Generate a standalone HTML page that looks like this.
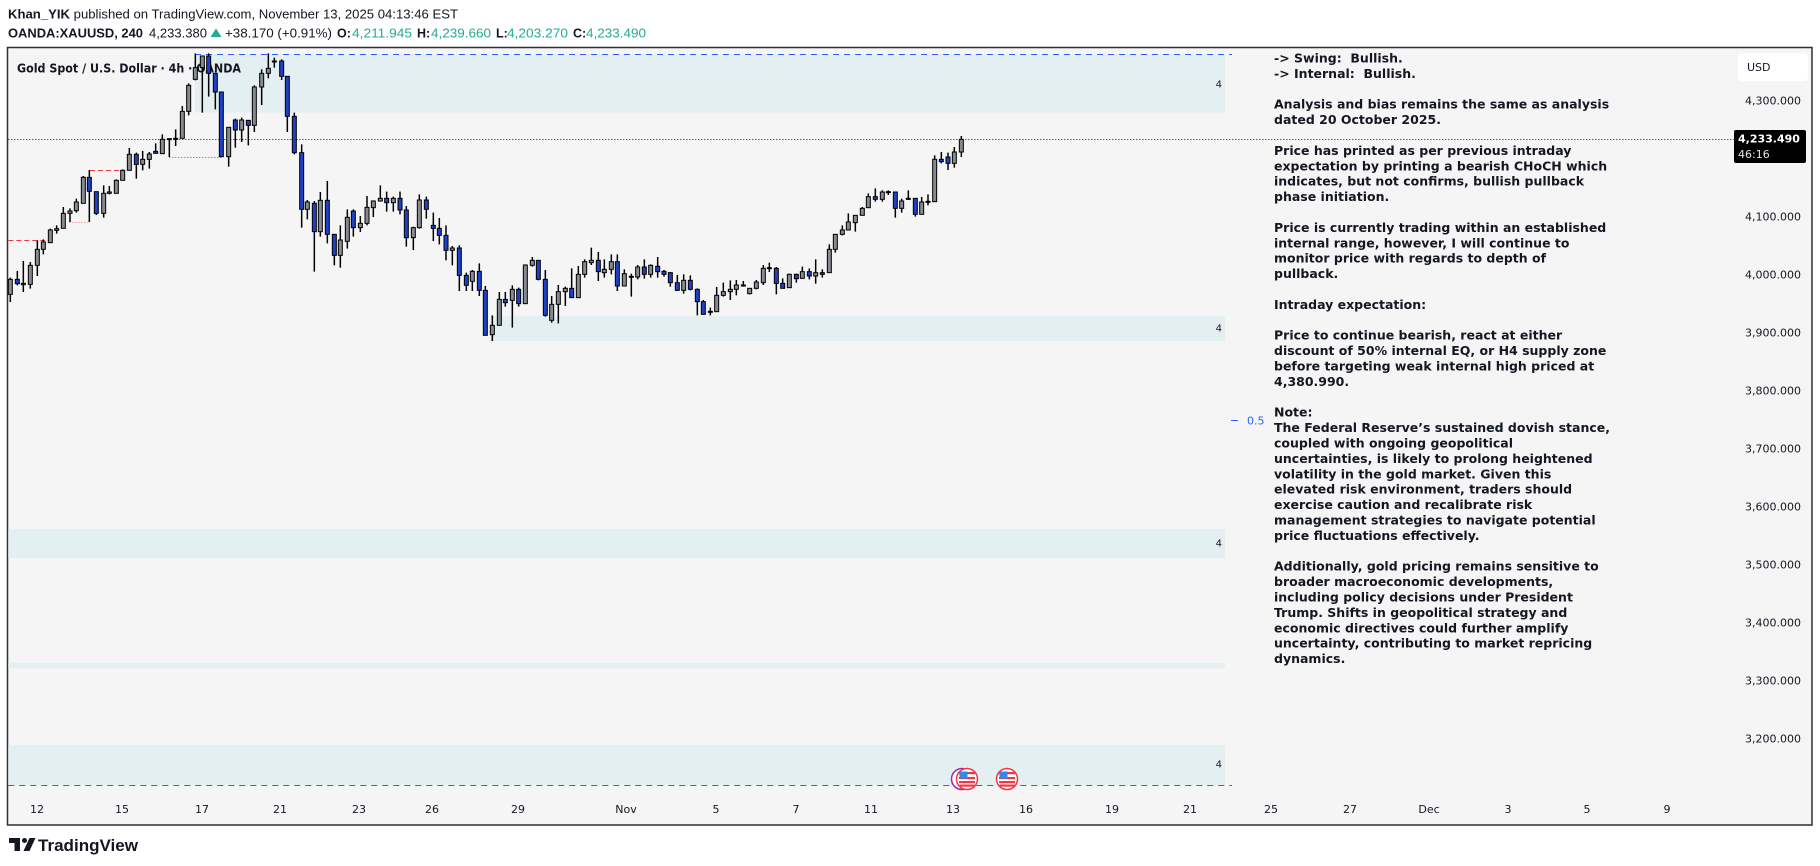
<!DOCTYPE html>
<html>
<head>
<meta charset="utf-8">
<style>
html,body{margin:0;padding:0;background:#fff;width:1820px;height:866px;overflow:hidden}
svg{display:block}
.g{fill:#878a91;stroke:#000;stroke-width:3}
.b{fill:#1f41c8;stroke:#000;stroke-width:3}
.w{stroke:#000;stroke-width:4.5;fill:none}
.ax{font-family:"DejaVu Sans",sans-serif;font-size:11px;fill:#131722}
.tb{font-family:"DejaVu Sans",sans-serif;font-weight:bold;font-size:12.5px;fill:#131722}
.z4{font-family:"DejaVu Sans",sans-serif;font-size:10px;fill:#131722}
</style>
</head>
<body>
<svg width="1820" height="866" viewBox="0 0 1820 866" xmlns="http://www.w3.org/2000/svg">
<rect x="0" y="0" width="1820" height="866" fill="#ffffff"/>

<!-- Header -->
<text x="8" y="18.5" font-family="Liberation Sans, sans-serif" font-size="12.5" fill="#131722" textLength="450" lengthAdjust="spacingAndGlyphs"><tspan font-weight="bold">Khan_YIK</tspan> published on TradingView.com, November 13, 2025 04:13:46 EST</text>
<g font-family="Liberation Sans, sans-serif" font-size="12.5" fill="#131722">
<text x="8" y="37.5" font-weight="bold" textLength="135" lengthAdjust="spacingAndGlyphs">OANDA:XAUUSD, 240</text>
<text x="149" y="37.5" textLength="58" lengthAdjust="spacingAndGlyphs">4,233.380</text>
<polygon points="210.5,37 216,28.5 221.5,37" fill="#22ab94"/>
<text x="225" y="37.5" textLength="107" lengthAdjust="spacingAndGlyphs">+38.170 (+0.91%)</text>
<text x="337" y="37.5" font-weight="bold">O:</text>
<text x="352" y="37.5" fill="#22ab94" textLength="60" lengthAdjust="spacingAndGlyphs">4,211.945</text>
<text x="417" y="37.5" font-weight="bold">H:</text>
<text x="431" y="37.5" fill="#22ab94" textLength="60" lengthAdjust="spacingAndGlyphs">4,239.660</text>
<text x="496" y="37.5" font-weight="bold">L:</text>
<text x="507" y="37.5" fill="#22ab94" textLength="61" lengthAdjust="spacingAndGlyphs">4,203.270</text>
<text x="573" y="37.5" font-weight="bold">C:</text>
<text x="586" y="37.5" fill="#22ab94" textLength="60" lengthAdjust="spacingAndGlyphs">4,233.490</text>
</g>

<!-- Chart frame -->
<rect x="7.5" y="47.5" width="1804.5" height="777.5" fill="#f6f5f6" stroke="#2a2e39" stroke-width="1.5"/>

<!-- Zones -->
<g fill="#e4eff1">
<rect x="195" y="54.3" width="1030" height="58.4"/>
<rect x="490" y="316" width="735" height="25"/>
<rect x="8.3" y="529" width="1216.7" height="29"/>
<rect x="8.3" y="663" width="1216.7" height="5.5"/>
<rect x="8.3" y="745" width="1216.7" height="40"/>
</g>
<line x1="195" y1="54.5" x2="1232" y2="54.5" stroke="#2962ff" stroke-width="1" stroke-dasharray="6 5"/>
<line x1="8.3" y1="785.5" x2="1232" y2="785.5" stroke="#2962ff" stroke-width="1" stroke-dasharray="6 5"/>
<text class="z4" x="1222" y="87.5" text-anchor="end">4</text>
<text class="z4" x="1222" y="331.5" text-anchor="end">4</text>
<text class="z4" x="1222" y="546.5" text-anchor="end">4</text>
<text class="z4" x="1222" y="767.5" text-anchor="end">4</text>

<!-- misc lines -->
<line x1="8.3" y1="240.5" x2="45" y2="240.5" stroke="#f23645" stroke-width="1" stroke-dasharray="5 3"/>
<line x1="90" y1="170.5" x2="122" y2="170.5" stroke="#f23645" stroke-width="1" stroke-dasharray="5 3"/>
<line x1="69" y1="222.5" x2="89" y2="222.5" stroke="#f4a0a8" stroke-width="1" stroke-dasharray="1.5 1.5"/>
<line x1="169" y1="157.5" x2="222" y2="157.5" stroke="#6f95f0" stroke-width="1" stroke-dasharray="1.5 1.5"/>
<line x1="8.3" y1="139.5" x2="1734" y2="139.5" stroke="#131722" stroke-width="1" stroke-dasharray="1 2"/>

<!-- title -->
<text x="17" y="72.5" font-family="DejaVu Sans, sans-serif" font-weight="bold" font-size="12" fill="#131722" textLength="224" lengthAdjust="spacingAndGlyphs">Gold Spot / U.S. Dollar · 4h · OANDA</text>

<!-- Candles group A -->
<g transform="translate(0 46) scale(0.333333)">
<path class="w" d="M31 695V768M52 675V718M70 645V738M91 648V728M112 583V690M130 580V625M151 548V590M170 538V563M190 483V547M210 487V528M229 458V500M250 390V472M268 372V528M289 437V507M311 418V515M328 420V445M349 400V442M368 370V403M388 306V373M409 320V398M428 315V373M448 318V368M467 292V322M487 265V323M508 278V333M527 250V300M547 180V277M566 112V208M586 22V103M607 30V200M626 22V152M646 82V190M664 138V332M686 244V362M706 218V305M725 215V288M745 223V298M763 118V258M785 70V177M805 22V97M823 35V65M845 40V102M862 91V258M883 200V325M905 295V545M922 462V520M943 465V677M961 438V572M982 405V592M1003 565V658M1021 538V665M1042 490V608M1060 490V572M1081 510V558M1101 450V538M1120 463V513M1141 418V467M1160 437V497M1180 452V497M1200 437V505M1219 480V602M1240 542V612M1258 445V548M1279 452V518M1300 500V585M1318 516V595M1338 538V643M1357 600V658M1378 598V735M1399 680V735"/>
<g transform="translate(1 0)">
<rect class="g" x="24" y="700" width="12" height="45"/>
<rect class="b" x="45" y="700" width="12" height="13"/>
<rect class="g" x="63" y="712" width="12" height="4"/>
<rect class="g" x="84" y="658" width="12" height="57"/>
<rect class="g" x="105" y="610" width="12" height="48"/>
<rect class="g" x="123" y="588" width="12" height="22"/>
<rect class="g" x="144" y="552" width="12" height="38"/>
<rect class="g" x="163" y="548" width="12" height="5"/>
<rect class="g" x="183" y="502" width="12" height="45"/>
<rect class="g" x="203" y="495" width="12" height="7"/>
<rect class="g" x="222" y="468" width="12" height="26"/>
<rect class="g" x="243" y="394" width="12" height="78"/>
<rect class="b" x="261" y="394" width="12" height="42"/>
<rect class="b" x="282" y="437" width="12" height="65"/>
<rect class="g" x="304" y="442" width="12" height="60"/>
<rect class="g" x="321" y="438" width="12" height="4"/>
<rect class="g" x="342" y="403" width="12" height="39"/>
<rect class="g" x="361" y="373" width="12" height="30"/>
<rect class="g" x="381" y="325" width="12" height="48"/>
<rect class="b" x="402" y="325" width="12" height="30"/>
<rect class="g" x="421" y="340" width="12" height="15"/>
<rect class="g" x="441" y="324" width="12" height="16"/>
<rect class="b" x="460" y="316" width="12" height="6"/>
<rect class="g" x="480" y="280" width="12" height="43"/>
<rect class="g" x="501" y="278" width="12" height="3"/>
<rect class="g" x="520" y="277" width="12" height="3"/>
<rect class="g" x="540" y="196" width="12" height="81"/>
<rect class="g" x="559" y="118" width="12" height="78"/>
<rect class="g" x="579" y="65" width="12" height="35"/>
<rect class="g" x="600" y="30" width="12" height="35"/>
<rect class="b" x="619" y="30" width="12" height="52"/>
<rect class="b" x="639" y="82" width="12" height="56"/>
<rect class="b" x="657" y="138" width="12" height="194"/>
<rect class="g" x="679" y="244" width="12" height="88"/>
<rect class="b" x="699" y="222" width="12" height="30"/>
<rect class="g" x="718" y="222" width="12" height="30"/>
<rect class="b" x="738" y="223" width="12" height="15"/>
<rect class="g" x="756" y="123" width="12" height="115"/>
<rect class="g" x="778" y="82" width="12" height="41"/>
<rect class="g" x="798" y="67" width="12" height="15"/>
<rect class="g" x="816" y="45" width="12" height="3"/>
<rect class="b" x="838" y="45" width="12" height="46"/>
<rect class="b" x="855" y="91" width="12" height="120"/>
<rect class="b" x="876" y="211" width="12" height="109"/>
<rect class="b" x="898" y="320" width="12" height="170"/>
<rect class="g" x="915" y="468" width="12" height="22"/>
<rect class="b" x="936" y="472" width="12" height="85"/>
<rect class="g" x="954" y="463" width="12" height="94"/>
<rect class="b" x="975" y="463" width="12" height="102"/>
<rect class="b" x="996" y="565" width="12" height="63"/>
<rect class="g" x="1014" y="582" width="12" height="46"/>
<rect class="g" x="1035" y="514" width="12" height="72"/>
<rect class="b" x="1053" y="495" width="12" height="50"/>
<rect class="g" x="1074" y="532" width="12" height="13"/>
<rect class="g" x="1094" y="484" width="12" height="48"/>
<rect class="g" x="1113" y="465" width="12" height="20"/>
<rect class="g" x="1134" y="457" width="12" height="8"/>
<rect class="b" x="1153" y="457" width="12" height="13"/>
<rect class="g" x="1173" y="457" width="12" height="13"/>
<rect class="b" x="1193" y="457" width="12" height="35"/>
<rect class="b" x="1212" y="492" width="12" height="83"/>
<rect class="g" x="1233" y="545" width="12" height="30"/>
<rect class="g" x="1251" y="462" width="12" height="83"/>
<rect class="b" x="1272" y="462" width="12" height="28"/>
<rect class="b" x="1293" y="538" width="12" height="9"/>
<rect class="b" x="1311" y="547" width="12" height="21"/>
<rect class="b" x="1331" y="568" width="12" height="45"/>
<rect class="g" x="1350" y="606" width="12" height="7"/>
<rect class="b" x="1371" y="606" width="12" height="82"/>
<rect class="b" x="1392" y="688" width="12" height="30"/>
</g>
</g>

<!-- Candles group B -->
<g transform="translate(470 46) scale(0.333333)">
<path class="w" d="M7 672V735M28 652V750M46 720V868M67 808V885M88 738V838M106 738V782M127 718V845M146 725V782M166 655V773M187 633V662M205 643V703M226 672V812M245 750V830M265 717V832M286 722V780M305 667V755M325 660V755M344 640V695M364 605V657M385 618V705M403 640V695M424 625V685M442 625V735M463 670V720M484 683V752M503 657V700M523 640V698M542 655V695M563 633V695M582 672V692M601 678V722M622 687V735M641 685V743M661 688V733M682 727V808M700 762V806M721 785V808M740 723V797M760 710V752M781 703V762M799 702V748M820 705V722M839 727V745M859 702V730M880 657V717M898 650V678M919 663V745M938 697V727M958 683V725M979 683V710M997 662V697M1018 667V700M1037 640V713M1057 670V695M1078 595V680M1096 565V620M1117 538V568M1135 502V552M1156 508V557M1177 483V508M1195 442V485M1216 427V467M1237 433V467M1255 433V447M1276 438V515M1295 458V500M1315 433V462M1336 457V512M1355 453V505M1374 445V478M1394 328V467M1414 318V352M1434 320V372M1453 303V365M1474 270V333"/>
<g transform="translate(1 0)">
<rect class="g" x="0" y="676" width="12" height="30"/>
<rect class="b" x="21" y="676" width="12" height="57"/>
<rect class="b" x="39" y="733" width="12" height="135"/>
<rect class="g" x="60" y="838" width="12" height="28"/>
<rect class="g" x="81" y="760" width="12" height="78"/>
<rect class="b" x="99" y="760" width="12" height="10"/>
<rect class="g" x="120" y="730" width="12" height="33"/>
<rect class="b" x="139" y="730" width="12" height="43"/>
<rect class="g" x="159" y="657" width="12" height="116"/>
<rect class="g" x="180" y="643" width="12" height="15"/>
<rect class="b" x="198" y="643" width="12" height="57"/>
<rect class="b" x="219" y="700" width="12" height="108"/>
<rect class="g" x="238" y="775" width="12" height="48"/>
<rect class="g" x="258" y="737" width="12" height="38"/>
<rect class="g" x="279" y="727" width="12" height="10"/>
<rect class="b" x="298" y="727" width="12" height="28"/>
<rect class="g" x="318" y="685" width="12" height="70"/>
<rect class="g" x="337" y="647" width="12" height="38"/>
<rect class="g" x="357" y="643" width="12" height="7"/>
<rect class="b" x="378" y="643" width="12" height="34"/>
<rect class="g" x="396" y="670" width="12" height="10"/>
<rect class="g" x="417" y="647" width="12" height="23"/>
<rect class="b" x="435" y="647" width="12" height="73"/>
<rect class="g" x="456" y="683" width="12" height="37"/>
<rect class="g" x="477" y="691" width="12" height="3"/>
<rect class="g" x="496" y="663" width="12" height="30"/>
<rect class="b" x="516" y="663" width="12" height="22"/>
<rect class="g" x="535" y="658" width="12" height="27"/>
<rect class="b" x="556" y="661" width="12" height="16"/>
<rect class="b" x="575" y="676" width="12" height="9"/>
<rect class="b" x="594" y="680" width="12" height="30"/>
<rect class="b" x="615" y="710" width="12" height="23"/>
<rect class="g" x="634" y="703" width="12" height="30"/>
<rect class="b" x="654" y="703" width="12" height="27"/>
<rect class="b" x="675" y="730" width="12" height="37"/>
<rect class="b" x="693" y="767" width="12" height="38"/>
<rect class="g" x="714" y="796" width="12" height="3"/>
<rect class="g" x="733" y="748" width="12" height="49"/>
<rect class="g" x="753" y="737" width="12" height="11"/>
<rect class="g" x="774" y="730" width="12" height="7"/>
<rect class="g" x="792" y="717" width="12" height="13"/>
<rect class="g" x="813" y="717" width="12" height="3"/>
<rect class="g" x="832" y="727" width="12" height="16"/>
<rect class="g" x="852" y="708" width="12" height="19"/>
<rect class="g" x="873" y="667" width="12" height="43"/>
<rect class="g" x="891" y="665" width="12" height="3"/>
<rect class="b" x="912" y="667" width="12" height="45"/>
<rect class="b" x="931" y="712" width="12" height="15"/>
<rect class="g" x="951" y="685" width="12" height="40"/>
<rect class="b" x="972" y="685" width="12" height="13"/>
<rect class="g" x="990" y="677" width="12" height="20"/>
<rect class="b" x="1011" y="677" width="12" height="13"/>
<rect class="g" x="1030" y="680" width="12" height="10"/>
<rect class="b" x="1050" y="680" width="12" height="5"/>
<rect class="g" x="1071" y="610" width="12" height="70"/>
<rect class="g" x="1089" y="565" width="12" height="45"/>
<rect class="g" x="1110" y="552" width="12" height="13"/>
<rect class="g" x="1128" y="528" width="12" height="24"/>
<rect class="g" x="1149" y="508" width="12" height="22"/>
<rect class="g" x="1170" y="487" width="12" height="21"/>
<rect class="g" x="1188" y="452" width="12" height="33"/>
<rect class="b" x="1209" y="452" width="12" height="8"/>
<rect class="g" x="1230" y="438" width="12" height="22"/>
<rect class="g" x="1248" y="437" width="12" height="3"/>
<rect class="b" x="1269" y="438" width="12" height="49"/>
<rect class="g" x="1288" y="465" width="12" height="22"/>
<rect class="g" x="1308" y="457" width="12" height="3"/>
<rect class="b" x="1329" y="457" width="12" height="48"/>
<rect class="g" x="1348" y="468" width="12" height="37"/>
<rect class="g" x="1367" y="466" width="12" height="3"/>
<rect class="g" x="1387" y="340" width="12" height="127"/>
<rect class="b" x="1407" y="340" width="12" height="7"/>
<rect class="b" x="1427" y="333" width="12" height="19"/>
<rect class="g" x="1446" y="318" width="12" height="34"/>
<rect class="g" x="1467" y="280" width="12" height="38"/>
</g>
</g>

<!-- 0.5 label -->
<line x1="1231" y1="420.5" x2="1238" y2="420.5" stroke="#2962ff" stroke-width="1"/>
<text x="1247" y="424.5" font-family="DejaVu Sans, sans-serif" font-size="11" fill="#2962ff">0.5</text>

<!-- Text block -->
<text class="tb" xml:space="preserve">
<tspan x="1274" y="62.5">-&gt; Swing:  Bullish.</tspan>
<tspan x="1274" y="77.9">-&gt; Internal:  Bullish.</tspan>
<tspan x="1274" y="108.7">Analysis and bias remains the same as analysis</tspan>
<tspan x="1274" y="124.1">dated 20 October 2025.</tspan>
<tspan x="1274" y="154.9">Price has printed as per previous intraday</tspan>
<tspan x="1274" y="170.3">expectation by printing a bearish CHoCH which</tspan>
<tspan x="1274" y="185.7">indicates, but not confirms, bullish pullback</tspan>
<tspan x="1274" y="201.1">phase initiation.</tspan>
<tspan x="1274" y="231.9">Price is currently trading within an established</tspan>
<tspan x="1274" y="247.3">internal range, however, I will continue to</tspan>
<tspan x="1274" y="262.7">monitor price with regards to depth of</tspan>
<tspan x="1274" y="278.1">pullback.</tspan>
<tspan x="1274" y="308.9">Intraday expectation:</tspan>
<tspan x="1274" y="339.7">Price to continue bearish, react at either</tspan>
<tspan x="1274" y="355.1">discount of 50% internal EQ, or H4 supply zone</tspan>
<tspan x="1274" y="370.5">before targeting weak internal high priced at</tspan>
<tspan x="1274" y="385.9">4,380.990.</tspan>
<tspan x="1274" y="416.7">Note:</tspan>
<tspan x="1274" y="432.1">The Federal Reserve’s sustained dovish stance,</tspan>
<tspan x="1274" y="447.5">coupled with ongoing geopolitical</tspan>
<tspan x="1274" y="462.9">uncertainties, is likely to prolong heightened</tspan>
<tspan x="1274" y="478.3">volatility in the gold market. Given this</tspan>
<tspan x="1274" y="493.7">elevated risk environment, traders should</tspan>
<tspan x="1274" y="509.1">exercise caution and recalibrate risk</tspan>
<tspan x="1274" y="524.5">management strategies to navigate potential</tspan>
<tspan x="1274" y="539.9">price fluctuations effectively.</tspan>
<tspan x="1274" y="570.7">Additionally, gold pricing remains sensitive to</tspan>
<tspan x="1274" y="586.1">broader macroeconomic developments,</tspan>
<tspan x="1274" y="601.5">including policy decisions under President</tspan>
<tspan x="1274" y="616.9">Trump. Shifts in geopolitical strategy and</tspan>
<tspan x="1274" y="632.3">economic directives could further amplify</tspan>
<tspan x="1274" y="647.7">uncertainty, contributing to market repricing</tspan>
<tspan x="1274" y="663.1">dynamics.</tspan>
</text>

<!-- Flags -->
<circle cx="962" cy="779" r="10.5" fill="#fff" stroke="#9c27b0" stroke-width="1.5"/>
<g>
<circle cx="967" cy="779" r="10.5" fill="#fff" stroke="#f23645" stroke-width="1.5"/>
<rect x="959" y="777" width="16" height="2.2" fill="#f23645"/>
<rect x="959" y="781" width="16" height="2.2" fill="#f23645"/>
<rect x="959.5" y="784.5" width="15" height="2.2" fill="#f23645"/>
<rect x="959" y="772" width="16" height="2.2" fill="#f23645"/>
<rect x="959.5" y="771.5" width="8" height="7" fill="#2e8ae6"/>
</g>
<g>
<circle cx="1007" cy="779" r="10.5" fill="#fff" stroke="#f23645" stroke-width="1.5"/>
<rect x="999" y="777" width="16" height="2.2" fill="#f23645"/>
<rect x="999" y="781" width="16" height="2.2" fill="#f23645"/>
<rect x="999.5" y="784.5" width="15" height="2.2" fill="#f23645"/>
<rect x="999" y="772" width="16" height="2.2" fill="#f23645"/>
<rect x="999.5" y="771.5" width="8" height="7" fill="#2e8ae6"/>
</g>

<!-- Price axis -->
<rect x="1738" y="53" width="70" height="28" rx="4" fill="#ffffff"/>
<text class="ax" x="1747" y="71">USD</text>
<g class="ax" text-anchor="end">
<text x="1801" y="104.3">4,300.000</text>
<text x="1801" y="220.3">4,100.000</text>
<text x="1801" y="278.3">4,000.000</text>
<text x="1801" y="336.3">3,900.000</text>
<text x="1801" y="394.3">3,800.000</text>
<text x="1801" y="452.3">3,700.000</text>
<text x="1801" y="510.3">3,600.000</text>
<text x="1801" y="568.3">3,500.000</text>
<text x="1801" y="626.3">3,400.000</text>
<text x="1801" y="684.3">3,300.000</text>
<text x="1801" y="742.3">3,200.000</text>
</g>
<rect x="1734" y="130" width="72" height="33" rx="2" fill="#000000"/>
<text x="1738" y="142.5" font-family="DejaVu Sans, sans-serif" font-weight="bold" font-size="11" fill="#ffffff">4,233.490</text>
<text x="1738" y="158" font-family="DejaVu Sans, sans-serif" font-size="11" fill="#e0e3eb">46:16</text>

<!-- Time axis -->
<g class="ax" text-anchor="middle">
<text x="37" y="813">12</text>
<text x="122" y="813">15</text>
<text x="202" y="813">17</text>
<text x="280" y="813">21</text>
<text x="359" y="813">23</text>
<text x="432" y="813">26</text>
<text x="518" y="813">29</text>
<text x="626" y="813">Nov</text>
<text x="716" y="813">5</text>
<text x="796" y="813">7</text>
<text x="871" y="813">11</text>
<text x="953" y="813">13</text>
<text x="1026" y="813">16</text>
<text x="1112" y="813">19</text>
<text x="1190" y="813">21</text>
<text x="1271" y="813">25</text>
<text x="1350" y="813">27</text>
<text x="1429" y="813">Dec</text>
<text x="1508" y="813">3</text>
<text x="1587" y="813">5</text>
<text x="1667" y="813">9</text>
</g>

<!-- TradingView logo -->
<path d="M9 838H20V851H14.5V843H9Z" fill="#131722"/>
<circle cx="24.5" cy="840.5" r="2.5" fill="#131722"/>
<path d="M29.5 838H35.5L29.5 851H23.5Z" fill="#131722"/>
<text x="38" y="851" font-family="Liberation Sans, sans-serif" font-weight="bold" font-size="17" fill="#131722" textLength="100" lengthAdjust="spacingAndGlyphs">TradingView</text>
</svg>
</body>
</html>
